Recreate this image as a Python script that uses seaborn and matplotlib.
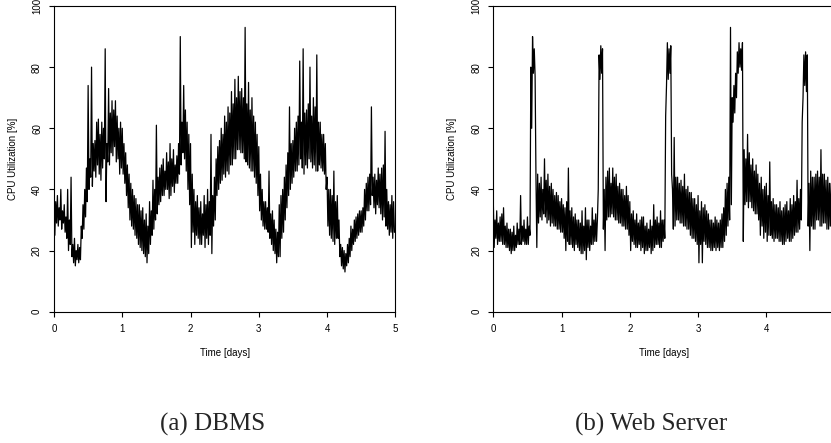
import numpy as np
import matplotlib
matplotlib.use("Agg")
import matplotlib.pyplot as plt
import seaborn as sns

# CPU utilisation [%], read off the picture as upper / lower edge of the
# noisy band every 0.025 days (upper at t, lower at t + step/2).
# one row = half a day
step = 0.025

dbms_hi = [43, 36, 38, 34, 40, 33, 35, 31, 40, 30, 44, 22, 24, 20, 22, 21, 28, 35, 40, 47,
           74, 50, 80, 55, 56, 62, 63, 58, 62, 60, 86, 55, 73, 65, 69, 66, 69, 64, 60, 62,
           60, 55, 52, 48, 45, 42, 40, 38, 37, 35, 35, 33, 34, 30, 32, 28, 36, 33, 43, 40,
           61, 44, 47, 48, 50, 46, 52, 49, 55, 50, 53, 48, 51, 55, 90, 62, 74, 66, 62, 58,
           55, 45, 40, 36, 38, 34, 36, 32, 38, 35, 40, 36, 58, 38, 44, 50, 54, 56, 60, 58,
           64, 62, 67, 65, 72, 68, 76, 70, 77, 72, 73, 70, 93, 68, 75, 66, 70, 64, 62, 58,
           54, 45, 40, 36, 36, 34, 46, 32, 33, 30, 27, 26, 35, 38, 40, 44, 48, 52, 67, 55,
           56, 60, 62, 64, 82, 62, 86, 65, 66, 68, 80, 64, 70, 67, 84, 62, 62, 58, 58, 55,
           44, 40, 40, 38, 46, 36, 38, 30, 22, 21, 20, 19, 22, 24, 28, 27, 30, 31, 32, 33,
           33, 34, 40, 42, 44, 45, 67, 44, 45, 43, 47, 45, 47, 48, 59, 40, 36, 35, 38, 36]
dbms_lo = [25, 29, 28, 30, 27, 29, 26, 24, 20, 22, 18, 16, 15, 17, 16, 17, 24, 27, 31, 36,
           40, 44, 41, 46, 44, 48, 45, 43, 47, 50, 36, 49, 48, 52, 51, 54, 49, 50, 45, 47,
           45, 42, 38, 34, 30, 28, 27, 25, 24, 22, 21, 20, 19, 18, 16, 19, 22, 25, 27, 30,
           32, 35, 36, 38, 38, 40, 40, 37, 38, 41, 39, 42, 42, 45, 48, 52, 50, 46, 40, 35,
           21, 26, 22, 25, 24, 22, 22, 25, 21, 24, 22, 25, 19, 28, 30, 38, 40, 42, 43, 45,
           44, 46, 45, 48, 48, 50, 50, 53, 53, 52, 52, 50, 49, 48, 47, 46, 46, 44, 42, 38,
           33, 30, 28, 27, 27, 26, 24, 22, 20, 19, 16, 18, 18, 24, 26, 30, 34, 38, 40, 42,
           44, 46, 46, 48, 50, 47, 45, 48, 47, 50, 49, 47, 48, 46, 46, 48, 47, 46, 45, 40,
           28, 25, 24, 23, 22, 24, 24, 18, 15, 14, 13, 15, 16, 18, 20, 22, 23, 24, 25, 26,
           26, 28, 30, 33, 33, 35, 38, 34, 32, 35, 34, 32, 30, 31, 28, 27, 25, 26, 24, 26]
dbms_end = 26

web_hi = [36, 30, 33, 29, 31, 32, 34, 28, 29, 27, 27, 26, 28, 25, 29, 27, 38, 28, 30, 27,
          31, 28, 80, 90, 86, 44, 45, 42, 44, 40, 50, 43, 45, 41, 42, 40, 38, 39, 38, 36,
          37, 35, 34, 36, 47, 33, 34, 31, 32, 30, 30, 29, 33, 28, 34, 30, 30, 28, 34, 30,
          32, 30, 84, 87, 86, 40, 44, 46, 47, 42, 47, 44, 45, 41, 42, 40, 40, 38, 41, 38,
          36, 32, 33, 30, 32, 29, 30, 31, 31, 28, 29, 27, 30, 28, 35, 30, 31, 29, 33, 30,
          30, 64, 88, 86, 87, 40, 57, 44, 44, 42, 43, 41, 45, 40, 41, 39, 39, 37, 37, 35,
          38, 33, 36, 34, 35, 33, 32, 30, 30, 29, 31, 30, 29, 30, 32, 34, 40, 42, 44, 93,
          70, 74, 78, 85, 88, 86, 88, 53, 50, 58, 52, 48, 50, 46, 48, 45, 42, 44, 40, 41,
          42, 38, 49, 36, 37, 35, 35, 34, 36, 33, 34, 35, 36, 33, 37, 35, 38, 36, 43, 37,
          40, 62, 84, 85, 84, 42, 46, 44, 44, 45, 46, 44, 53, 45, 45, 43, 44, 42, 42, 40]
web_lo = [21, 24, 22, 23, 23, 22, 22, 21, 21, 20, 19, 20, 20, 21, 22, 22, 22, 23, 22, 22,
          22, 25, 60, 78, 77, 21, 29, 31, 30, 32, 31, 29, 30, 28, 29, 28, 28, 27, 27, 26,
          26, 24, 20, 23, 22, 22, 21, 20, 22, 21, 20, 19, 19, 20, 17, 21, 20, 22, 22, 23,
          23, 40, 76, 78, 27, 20, 30, 31, 31, 32, 31, 30, 30, 29, 29, 28, 28, 27, 27, 25,
          20, 23, 22, 21, 21, 22, 20, 21, 19, 20, 20, 21, 19, 20, 21, 22, 22, 21, 21, 23,
          24, 74, 76, 78, 45, 27, 28, 30, 30, 29, 29, 28, 28, 27, 27, 25, 24, 24, 23, 22,
          16, 22, 16, 23, 22, 21, 21, 20, 20, 21, 20, 21, 20, 21, 21, 23, 25, 28, 30, 35,
          62, 65, 70, 78, 80, 79, 23, 35, 36, 34, 36, 34, 33, 32, 32, 30, 25, 28, 24, 26,
          23, 25, 25, 24, 23, 24, 24, 23, 23, 22, 22, 23, 24, 23, 23, 24, 25, 26, 26, 27,
          30, 70, 74, 72, 28, 20, 28, 27, 27, 30, 30, 28, 28, 29, 29, 27, 27, 28, 28, 27]
web_end = 35

x_ticks = [0, 1, 2, 3, 4, 5]
y_ticks = [0, 20, 40, 60, 80, 100]
captions = ["(a) DBMS", "(b) Web Server"]


def band(hi, lo, end):
    n = len(hi)
    t = np.empty(2 * n + 1)
    v = np.empty(2 * n + 1)
    t[0:-1:2] = np.arange(n) * step
    t[1::2] = np.arange(n) * step + step / 2
    t[-1] = n * step
    v[0:-1:2] = hi
    v[1::2] = lo
    v[-1] = end
    return t, v


sns.set_theme(style="ticks")
plt.rcParams["font.family"] = ["Liberation Sans", "DejaVu Sans"]

fig = plt.figure(figsize=(8.31, 4.43), dpi=100)
W, H = 831, 443
bottom = 1 - 311.7 / H
height = 305.7 / H
width = 341.3 / W
ax1 = fig.add_axes([54 / W, bottom, width, height])
ax2 = fig.add_axes([493.3 / W, bottom, width, height])

for ax, (hi, lo, end) in zip([ax1, ax2], [(dbms_hi, dbms_lo, dbms_end),
                                         (web_hi, web_lo, web_end)]):
    t, v = band(hi, lo, end)
    sns.lineplot(x=t, y=v, ax=ax, color="black", linewidth=0.9,
                 estimator=None, sort=False)
    ax.set_xlim(0, 5)
    ax.set_ylim(0, 100)
    ax.set_xticks(x_ticks)
    ax.set_yticks(y_ticks)
    ax.tick_params(direction="out", length=3.6, width=0.8, color="black",
                   labelsize=7, labelcolor="black", pad=5)
    ax.tick_params(axis="y", labelrotation=90)
    for lab in ax.get_yticklabels():
        lab.set_va("center")
    for s in ax.spines.values():
        s.set_visible(True)
        s.set_linewidth(0.8)
        s.set_color("black")
    ax.set_xlabel("Time [days]", fontsize=7, color="black")
    ax.set_ylabel("CPU Utilization [%]", fontsize=7, color="black")
    ax.xaxis.set_label_coords(0.5, -0.118)
    ax.yaxis.set_label_coords(-0.105, 0.5)
    ax.grid(False)

fig.text(213 / W, 1 - 431 / H, captions[0], family="Liberation Serif",
         fontsize=18, ha="center", va="baseline")
fig.text(651 / W, 1 - 431 / H, captions[1], family="Liberation Serif",
         fontsize=18, ha="center", va="baseline")

fig.savefig("out.png", dpi=100, facecolor="white")
